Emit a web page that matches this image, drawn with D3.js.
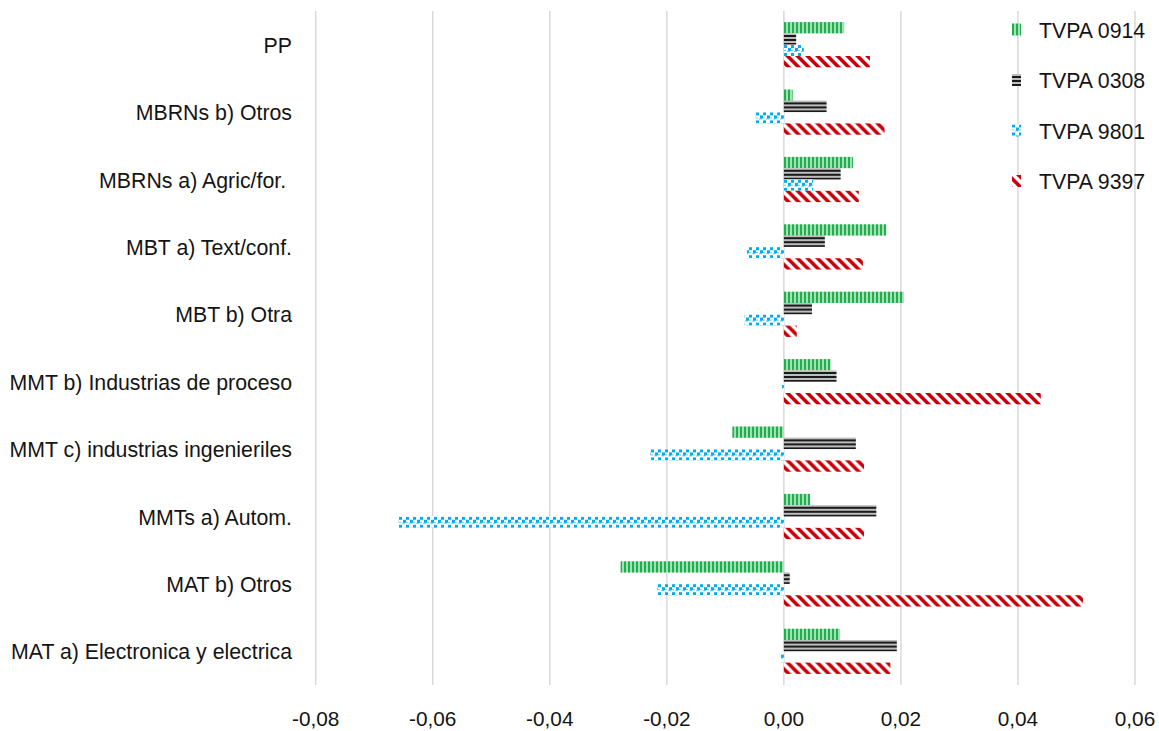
<!DOCTYPE html>
<html>
<head>
<meta charset="utf-8">
<script src="https://cdn.jsdelivr.net/npm/d3@7"></script>
<style>
  html, body { margin: 0; padding: 0; background: #fff; }
  svg { display: block; }
  text { font-family: "Liberation Sans", Arial, sans-serif; fill: #141414; }
</style>
</head>
<body>
<svg id="chart" width="1159" height="731"></svg>
<script>
// ---- data ----
const categories = [
  "PP",
  "MBRNs b) Otros",
  "MBRNs a) Agric/for.\u00a0",
  "MBT a) Text/conf.",
  "MBT b) Otra",
  "MMT b) Industrias de proceso",
  "MMT c) industrias ingenieriles",
  "MMTs a) Autom.",
  "MAT b) Otros",
  "MAT a) Electronica y electrica"
];
const seriesNames = ["TVPA 0914", "TVPA 0308", "TVPA 9801", "TVPA 9397"];
const tvpa0914 = [0.0103, 0.0015, 0.0118, 0.0175, 0.0205, 0.0080, -0.0088, 0.0045, -0.0279, 0.0096];
const tvpa0308 = [0.0021, 0.0073, 0.0097, 0.0070, 0.0048, 0.0090, 0.0123, 0.0158, 0.0010, 0.0193];
const tvpa9801 = [0.0034, -0.0048, 0.0050, -0.0063, -0.0067, -0.0003, -0.0228, -0.0658, -0.0216, -0.0005];
const tvpa9397 = [0.0147, 0.0172, 0.0128, 0.0135, 0.0022, 0.0439, 0.0137, 0.0137, 0.0511, 0.0182];
const xTicks = [-0.08, -0.06, -0.04, -0.02, 0.00, 0.02, 0.04, 0.06];

const seriesValues = [tvpa0914, tvpa0308, tvpa9801, tvpa9397];
const patternIds = ["pGreen", "pBlack", "pBlue", "pRed"];

// ---- layout ----
const svg = d3.select("#chart");
const plot = { left: 315.7, right: 1135, top: 11, bottom: 685 };

const x = d3.scaleLinear().domain([-0.08, 0.06]).range([plot.left, plot.right]);
const y = d3.scaleBand().domain(categories).range([plot.top, plot.bottom]).padding(0);
const ys = d3.scaleBand().domain(seriesNames).range([0, y.bandwidth()])
  .paddingInner(0).paddingOuter(0.98);

// ---- patterns ----
const defs = svg.append("defs");

// green: vertical stripes
const pg = defs.append("pattern").attr("id", "pGreen")
  .attr("patternUnits", "userSpaceOnUse").attr("width", 4).attr("height", 4);
pg.append("rect").attr("width", 4).attr("height", 4).attr("fill", "#a6dfb5");
pg.append("rect").attr("width", 2).attr("height", 4).attr("fill", "#1db14d");

// black: horizontal stripes
const pk = defs.append("pattern").attr("id", "pBlack")
  .attr("patternUnits", "userSpaceOnUse").attr("width", 4).attr("height", 4);
pk.append("rect").attr("width", 4).attr("height", 4).attr("fill", "#bdbdbd");
pk.append("rect").attr("width", 4).attr("height", 2).attr("fill", "#1a1a1a");

// blue: confetti
const pb = defs.append("pattern").attr("id", "pBlue")
  .attr("patternUnits", "userSpaceOnUse").attr("width", 7).attr("height", 8);
pb.append("rect").attr("width", 7).attr("height", 8).attr("fill", "#ffffff");
pb.append("rect").attr("x", 0).attr("y", 2).attr("width", 3).attr("height", 3).attr("fill", "#00aeef");
pb.append("rect").attr("x", 4).attr("y", 5).attr("width", 3).attr("height", 3).attr("fill", "#00aeef");
pb.append("rect").attr("x", 3).attr("y", 0).attr("width", 3).attr("height", 1).attr("fill", "#66cdf5");
pb.append("rect").attr("x", 0).attr("y", 7).attr("width", 2).attr("height", 1).attr("fill", "#66cdf5");

// red: wide downward diagonal
const pr = defs.append("pattern").attr("id", "pRed")
  .attr("patternUnits", "userSpaceOnUse").attr("width", 10).attr("height", 10);
pr.append("rect").attr("width", 10).attr("height", 10).attr("fill", "#ffffff");
pr.append("polygon").attr("points", "0,0 5,0 10,5 10,10").attr("fill", "#c8000a");
pr.append("polygon").attr("points", "0,5 5,10 0,10").attr("fill", "#c8000a");

// ---- gridlines ----
svg.append("g").selectAll("line").data(xTicks).join("line")
  .attr("x1", d => x(d)).attr("x2", d => x(d))
  .attr("y1", plot.top).attr("y2", plot.bottom)
  .attr("stroke", "#d9d9d9").attr("stroke-width", 1.5);

// ---- bars ----
const groups = svg.append("g").selectAll("g").data(categories).join("g")
  .attr("transform", d => `translate(0,${y(d)})`);

groups.selectAll("rect")
  .data((c, i) => seriesNames.map((s, j) => ({ s, j, v: seriesValues[j][i] })))
  .join("rect")
  .attr("x", d => x(Math.min(0, d.v)))
  .attr("width", d => Math.abs(x(d.v) - x(0)))
  .attr("y", d => ys(d.s))
  .attr("height", ys.bandwidth())
  .attr("fill", d => `url(#${patternIds[d.j]})`);

// ---- category labels ----
svg.append("g").selectAll("text").data(categories).join("text")
  .attr("x", 292)
  .attr("y", d => y(d) + y.bandwidth() / 2 + 1)
  .attr("text-anchor", "end")
  .attr("dominant-baseline", "central")
  .attr("font-size", 21.3)
  .text(d => d);

// ---- x tick labels ----
const fmt = d => d3.format(".2f")(d).replace("−", "-").replace(".", ",");
svg.append("g").selectAll("text").data(xTicks).join("text")
  .attr("x", d => x(d))
  .attr("y", 718)
  .attr("text-anchor", "middle")
  .attr("dominant-baseline", "central")
  .attr("font-size", 20.8)
  .text(d => fmt(d));

// ---- legend ----
const legend = svg.append("g").selectAll("g").data(seriesNames).join("g")
  .attr("transform", (d, i) => `translate(1012,${29.5 + i * 50.5})`);
legend.append("rect")
  .attr("x", 0).attr("y", -6).attr("width", 9).attr("height", 12)
  .attr("fill", (d, i) => `url(#${patternIds[i]})`);
legend.append("text")
  .attr("x", 27).attr("y", 1)
  .attr("dominant-baseline", "central")
  .attr("font-size", 21.3)
  .text(d => d);
</script>
</body>
</html>
